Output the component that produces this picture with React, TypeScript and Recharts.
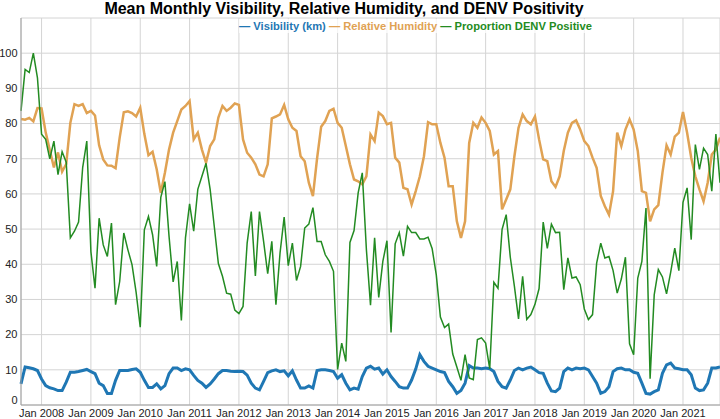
import { LineChart, Line, XAxis, YAxis, CartesianGrid } from "recharts";

// monthly series, first month = Aug 2007, last = Oct 2021
const START_YEAR = 2007;
const START_MONTH = 7; // August (0-based)

const visibility = [
  6, 10.8, 10.6, 10.3, 9.8,
  7.4, 5.5, 4.9, 4.6, 4.1, 4.1, 6.5, 9.3, 9.3, 9.5, 9.8, 10.1,
  9.5, 8.9, 6.2, 5.5, 3.3, 3.3, 7, 9.8, 9.8, 9.8, 10.1, 10.3,
  9.3, 7, 5, 5, 6, 4.6, 5.5, 8.9, 10.5, 10.5, 9.8, 10.3,
  10, 8.4, 7, 6.2, 5, 6, 7.4, 8.9, 9.8, 9.8, 9.6, 9.5,
  9.6, 9.5, 8.5, 6.2, 4.8, 4.3, 6.7, 9.2, 9.7, 10, 9.5, 9.7,
  8.3, 9.7, 7.1, 4.8, 4.8, 5.4, 4.8, 9.8, 10, 10, 9.8, 9.5,
  7.6, 8.6, 6.2, 4.3, 4.8, 4.5, 8.1, 10.5, 11, 10.2, 10.5, 8.8,
  10, 8.1, 6.7, 5.2, 4.8, 4.8, 7.1, 10.2, 14.3, 12.4, 11, 10.5,
  10, 9.5, 9.2, 6.7, 5.2, 3.3, 4.1, 6.2, 11.2, 10.5, 10.5, 10.3,
  10.5, 10.3, 9.5, 6.7, 5.2, 4.8, 7.1, 9.8, 10.5, 10, 10.5, 10.8,
  10, 9.2, 9, 6.2, 4, 3.8, 4.8, 9.5, 10.5, 10, 10.5, 10.3,
  10.5, 10, 8.1, 6.2, 3.3, 3.8, 5.2, 9.5, 10.3, 10.5, 10, 10,
  9.3, 9, 6.2, 3.3, 3.1, 3.8, 4.3, 9, 11.4, 11.9, 10.5, 10.3,
  10, 10, 8.6, 4.8, 4.1, 4.3, 6.2, 10.5, 10.5, 10.8,
];

const humidity = [
  81.3, 81.1, 81.6, 80.6, 84.4,
  84.3, 77.5, 72.5, 67.5, 71.8, 66.3, 68.5, 80.2, 85.5, 85, 85.5, 83,
  83.6, 82.3, 73.8, 69.8, 68.1, 68, 67.3, 76, 83.2, 83.5, 83, 82,
  84.5, 77, 71, 72, 67, 60.3, 66, 72.6, 77.4, 80.7, 84, 85,
  86.4, 75.5, 77.4, 72.6, 68.9, 73.6, 75.5, 81.7, 85, 83.6, 84.5, 85.7,
  85.3, 75.5, 71.7, 70.3, 68.4, 65.5, 65, 68.4, 81.5, 82, 82.6, 85.3,
  81.2, 78.8, 77.9, 70.7, 69.3, 63.2, 59.4, 70, 79.1, 80.7, 83.6, 84.2,
  80.2, 78.8, 73.6, 68.4, 64.1, 63.6, 62.7, 65, 76.9, 75, 83.1, 82.1,
  79.8, 80.2, 70.3, 68.9, 61.7, 61.3, 57, 60.8, 65, 70.7, 80.4, 79.8,
  79.8, 74.5, 70.3, 62.2, 62.2, 52.2, 47.5, 52.2, 74.5, 80.2, 78.8, 81.7,
  80.2, 77.9, 71.2, 72.2, 55.6, 58.4, 61.3, 70.7, 78.8, 82.6, 80.7, 79.8,
  82, 75.5, 69.8, 69.3, 63.6, 62, 65, 72.2, 77.4, 80.2, 80.9, 78.3,
  75, 73.6, 70.3, 67.4, 59.4, 56.5, 54.1, 60.8, 77.4, 73.6, 78.3, 81.2,
  78.3, 72.2, 60.8, 60.3, 52.2, 55.6, 56.8, 66, 73.8, 71.2, 76.3, 77.4,
  83.3, 77.4, 70.3, 65, 61.3, 57.9, 63.2, 71.2, 72.6, 76,
];

const denvPositive = [
  83.6, 95.4, 94.5, 100, 93,
  77, 75.5, 70, 75, 65.5, 72, 69, 47.5, 49.4, 52, 67.5, 75,
  43.6, 33.2, 53.1, 45.5, 42.2, 51.7, 28.5, 35.1, 48.9, 44.1, 39.9, 32,
  22.1, 49.8, 53.6, 48.4, 39.4, 59, 63.5, 48, 35, 40.8, 24, 47.5,
  57.2, 49.4, 61.3, 65, 68.7, 61.3, 50.8, 40.2, 36.6, 31.8, 31.5, 27,
  26, 28, 46, 55, 36.7, 55, 46.5, 37.3, 46.5, 28.5, 43.2, 53.4,
  39.6, 46, 35.4, 39.4, 50.3, 51.4, 56.1, 46.5, 46.5, 42.7, 40.8, 38,
  10.1, 17.6, 12.4, 46.2, 49.6, 60.3, 66, 44.2, 28.4, 47.5, 30.6, 40.8,
  46.7, 20.6, 45.8, 49, 42.3, 50.8, 49, 49, 47.2, 47.2, 47.7, 44.4,
  37, 25, 22, 23, 14.5, 10.8, 7, 14.3, 7.7, 7.2, 18.6, 19.1,
  17.6, 10.3, 34.9, 33.2, 49.9, 54.1, 42, 33.7, 24.5, 36.6, 24.3, 25.7,
  28.6, 33.1, 52, 44.5, 51.4, 49, 49.1, 32.8, 41.8, 36.1, 36.4, 34.2,
  27.3, 24.3, 25.7, 40.3, 46, 41.8, 42.2, 38.2, 31.8, 35.8, 42, 17.4,
  14.3, 36.1, 40.8, 56, 7.5, 31.3, 38.5, 36.4, 31.6, 37.7, 44.6, 38.2,
  57.6, 61.7, 47, 74, 67, 73, 71.2, 60.8, 77, 63.2,
];

const yTicks = [0, 10, 20, 30, 40, 50, 60, 70, 80, 90, 100];

const data = visibility.map((v, i) => ({
  t: i,
  vis: v,
  rh: humidity[i],
  denv: denvPositive[i],
}));

const janTicks = data.map((d) => d.t).filter((t) => (START_MONTH + t) % 12 === 0);
const yearLabel = (t: number) => `Jan ${START_YEAR + Math.floor((START_MONTH + t) / 12)}`;

const FONT = "'Liberation Sans', Arial, Helvetica, sans-serif";
const BLUE = "#1f77b4";
const ORANGE = "#e0a253";
const GREEN = "#238b22";

const YTick = (props: any) => {
  const { x, y, payload } = props;
  // bottom label is nudged up so it sits above the axis
  const shift = payload.value === 0 ? -5 : 0;
  return (
    <text x={x} y={y + shift} dy="0.35em" textAnchor="end" fontSize={11} fill="#222" fontFamily={FONT}>
      {payload.value}
    </text>
  );
};

export default function App() {
  return (
    <div style={{ position: "absolute", left: 0, top: 0, width: 720, height: 419, fontFamily: FONT }}>
      <LineChart width={720} height={419} data={data} margin={{ top: 18, right: 0, bottom: 0, left: 0 }}>
        <CartesianGrid stroke="#d4d4d4" strokeWidth={1} />
        <XAxis
          type="number"
          dataKey="t"
          domain={[0, data.length - 1]}
          ticks={janTicks}
          interval={0}
          tickFormatter={yearLabel}
          height={14}
          tickLine={false}
          tickSize={0}
          tickMargin={4}
          axisLine={{ stroke: "#a0a0a0" }}
          tick={{ fontSize: 11, fill: "#222", fontFamily: FONT }}
        />
        <YAxis
          domain={[0, 110]}
          ticks={yTicks}
          width={21}
          tickLine={false}
          tickSize={0}
          tickMargin={3.5}
          axisLine={{ stroke: "#a0a0a0" }}
          tick={<YTick />}
        />
        <Line type="linear" dataKey="vis" stroke={BLUE} strokeWidth={3} dot={false} isAnimationActive={false} />
        <Line type="linear" dataKey="rh" stroke={ORANGE} strokeWidth={2.5} dot={false} isAnimationActive={false} />
        <Line type="linear" dataKey="denv" stroke={GREEN} strokeWidth={1.5} dot={false} isAnimationActive={false} />
      </LineChart>
      <div
        style={{
          position: "absolute",
          left: 0,
          top: 0,
          width: 688,
          height: 18,
          lineHeight: "18px",
          textAlign: "center",
          fontSize: 16,
          fontWeight: "bold",
          color: "#000",
        }}
      >
        Mean Monthly Visibility, Relative Humidity, and DENV Positivity
      </div>
      <div
        style={{
          position: "absolute",
          left: 239,
          top: 19,
          height: 14,
          lineHeight: "14px",
          fontSize: 11.2,
          fontWeight: "bold",
          whiteSpace: "nowrap",
          background: "rgba(255,255,255,0.75)",
        }}
      >
        <span style={{ color: BLUE }}>— Visibility (km)</span>{" "}
        <span style={{ color: ORANGE }}>— Relative Humidity</span>{" "}
        <span style={{ color: GREEN }}>— Proportion DENV Positive</span>
      </div>
    </div>
  );
}
